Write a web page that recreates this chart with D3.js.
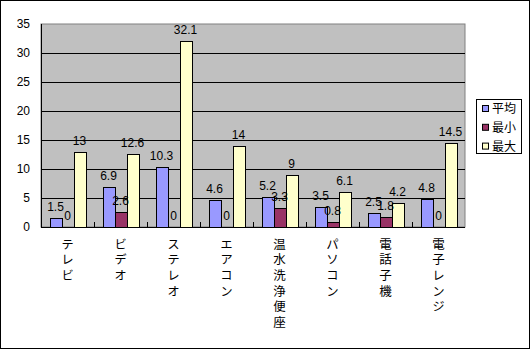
<!DOCTYPE html>
<html><head><meta charset="utf-8">
<script src="https://cdn.jsdelivr.net/npm/d3@7"></script>
<style>body{margin:0;background:#fff}svg{display:block}</style>
</head><body>
<script>
const categories = ["テレビ","ビデオ","ステレオ","エアコン","温水洗浄便座","パソコン","電話子機","電子レンジ"];
const series = ["平均","最小","最大"];
const avgValues = [1.5, 6.9, 10.3, 4.6, 5.2, 3.5, 2.5, 4.8];
const minValues = [0, 2.6, 0, 0, 3.3, 0.8, 1.8, 0];
const maxValues = [13, 12.6, 32.1, 14, 9, 6.1, 4.2, 14.5];
const yTicks = [0,5,10,15,20,25,30,35];
const colors = ["#9999FF","#993366","#FFFFCC"];

const W = 531, H = 350;
const svg = d3.select("body").append("svg").attr("width", W).attr("height", H);
const font = "'Liberation Sans', Arial, sans-serif";
const jfont = "'Noto Sans CJK JP', sans-serif";

svg.append("rect").attr("x",0.5).attr("y",0.5).attr("width",529).attr("height",348)
  .attr("fill","#fff").attr("stroke","#000");

const L = 41, R = 465, T = 24, B = 227;
const x0 = d3.scaleBand().domain(categories).range([L, R]);
const x1 = d3.scaleBand().domain(series).range([8.5, x0.bandwidth() - 8.5]);
const y = d3.scaleLinear().domain([0, 35]).range([B, T]);

svg.append("rect").attr("x",L).attr("y",T).attr("width",R-L).attr("height",B-T)
  .attr("fill","#C0C0C0").attr("stroke","#808080");

svg.append("g").selectAll("line").data(yTicks.filter(d=>d>0 && d<35)).join("line")
  .attr("x1",L).attr("x2",R).attr("y1",d=>Math.round(y(d))+0.5).attr("y2",d=>Math.round(y(d))+0.5)
  .attr("stroke","#000");

const data = categories.map((c,i)=>({cat:c, vals:[avgValues[i],minValues[i],maxValues[i]]}));

const g = svg.append("g").selectAll("g").data(data).join("g")
  .attr("transform", d=>`translate(${x0(d.cat)},0)`);
g.selectAll("rect").data(d=>d.vals.map((v,j)=>({v, s:series[j], j}))).join("rect")
  .attr("x", d=>Math.round(x1(d.s))+0.5)
  .attr("y", d=>Math.round(y(d.v))+0.5)
  .attr("width", Math.round(x1.bandwidth()))
  .attr("height", d=>Math.max(0, B - Math.round(y(d.v))))
  .attr("fill", d=>colors[d.j]).attr("stroke","#000");
g.selectAll("text").data(d=>d.vals.map((v,j)=>({v, s:series[j]}))).join("text")
  .attr("x", d=>x1(d.s)+x1.bandwidth()/2)
  .attr("y", d=>y(d.v)-7)
  .attr("text-anchor","middle").attr("font-family",font).attr("font-size",12)
  .text(d=>d.v);

// axes
svg.append("line").attr("x1",L+0.5).attr("x2",L+0.5).attr("y1",T).attr("y2",B).attr("stroke","#000");
svg.append("line").attr("x1",L).attr("x2",R).attr("y1",B+0.5).attr("y2",B+0.5).attr("stroke","#000");
svg.append("g").selectAll("line").data(categories.slice(1)).join("line")
  .attr("x1",d=>Math.round(x0(d))+0.5).attr("x2",d=>Math.round(x0(d))+0.5)
  .attr("y1",B-5).attr("y2",B).attr("stroke","#000");

svg.append("g").selectAll("text").data(yTicks).join("text")
  .attr("x",30).attr("y",d=>y(d)).attr("dy","0.35em").attr("text-anchor","end")
  .attr("font-family",font).attr("font-size",12).text(d=>d);

// vertical category labels (single vertical text each)
svg.append("g").selectAll("text").data(categories).join("text")
  .attr("x", c=>x0(c)+x0.bandwidth()/2)
  .attr("y", 237.5)
  .style("writing-mode","vertical-rl")
  .style("text-orientation","upright")
  .style("letter-spacing","3.2px")
  .attr("font-family",jfont).attr("font-size",12.5)
  .text(d=>d);

// legend
const lg = svg.append("g");
lg.append("rect").attr("x",476.5).attr("y",99.5).attr("width",45).attr("height",54)
  .attr("fill","#fff").attr("stroke","#000");
const li = lg.selectAll("g").data(series).join("g")
  .attr("transform",(d,i)=>`translate(0,${109 + i*18.8})`);
li.append("rect").attr("x",482.5).attr("y",-3.5).attr("width",6).attr("height",6)
  .attr("fill",(d,i)=>colors[i]).attr("stroke","#000");
li.append("text").attr("x",492).attr("y",0).attr("dy","0.35em")
  .attr("font-family",jfont).attr("font-size",12).text(d=>d);
</script>
</body></html>
